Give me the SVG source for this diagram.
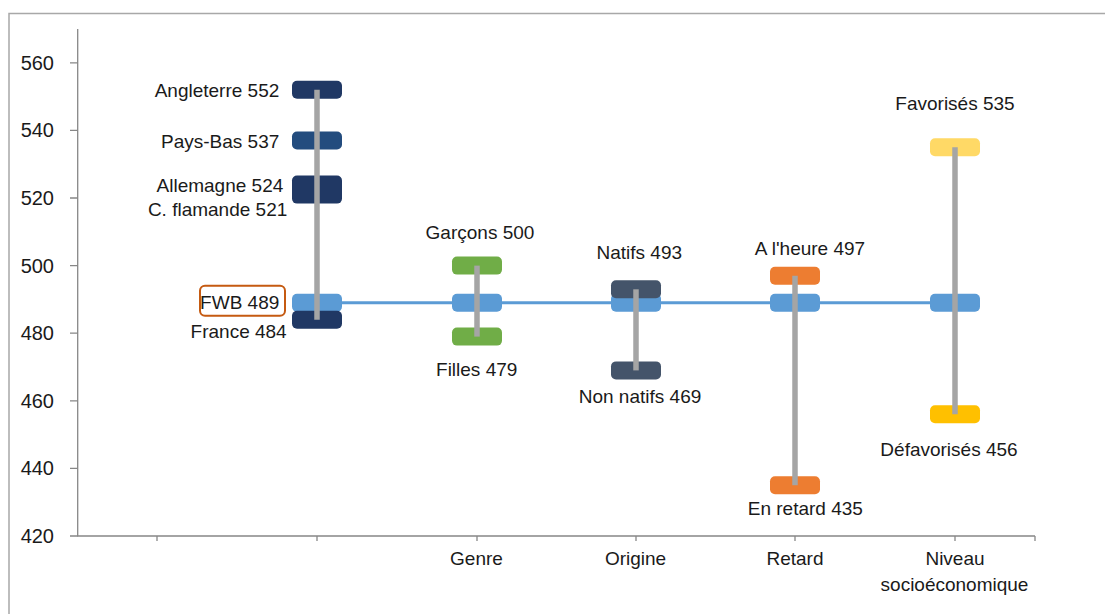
<svg xmlns="http://www.w3.org/2000/svg" width="1105" height="614" viewBox="0 0 1105 614">
<style>
  text { font-family: "Liberation Sans", Arial, sans-serif; font-size: 19px; fill: #1a1a1a; }
  .ax { font-size: 20px; text-anchor: end; }
  .mid { text-anchor: middle; }
  .end { text-anchor: end; }
  .axis { stroke: #878787; stroke-width: 1.3; fill: none; }
  .bar { stroke: #a5a5a5; stroke-width: 5.5; }
  .mean { stroke: #5b9bd5; stroke-width: 3; }
  .box { rx: 5; ry: 5; }
  .fwb { fill: #5b9bd5; }
  .navy { fill: #203864; }
  .navy2 { fill: #234c7e; }
  .green { fill: #70ad47; }
  .slate { fill: #44546a; }
  .orange { fill: #ed7d31; }
  .yellow { fill: #ffd966; }
  .gold { fill: #ffc000; }
</style>
<rect x="0" y="0" width="1105" height="614" fill="#ffffff"/>
<rect x="9" y="13.5" width="1110" height="620" fill="none" stroke="#a8a8a8" stroke-width="1.5"/>

<g id="axes">
  <path class="axis" d="M77.7 29 V536 H1035"/>
  <path class="axis" d="M70 62.8 H77.7 M70 130.4 H77.7 M70 198 H77.7 M70 265.6 H77.7 M70 333.2 H77.7 M70 400.8 H77.7 M70 468.4 H77.7 M70 536 H77.7"/>
  <path class="axis" d="M157 536 V541 M317 536 V541 M477 536 V541 M636 536 V541 M795 536 V541 M955 536 V541 M1035 536 V541"/>
  <text class="ax" x="54" y="69.8">560</text>
  <text class="ax" x="54" y="137.4">540</text>
  <text class="ax" x="54" y="205">520</text>
  <text class="ax" x="54" y="272.6">500</text>
  <text class="ax" x="54" y="340.2">480</text>
  <text class="ax" x="54" y="407.8">460</text>
  <text class="ax" x="54" y="475.4">440</text>
  <text class="ax" x="54" y="543">420</text>
  <text class="mid" x="476.5" y="565">Genre</text>
  <text class="mid" x="635.5" y="565">Origine</text>
  <text class="mid" x="795" y="565">Retard</text>
  <text class="mid" x="955" y="565">Niveau</text>
  <text class="mid" x="954.5" y="590.7">socioéconomique</text>
</g>

<g id="connectors">
  <line class="mean" x1="317" y1="302.8" x2="955" y2="302.8"/>
</g>

<g id="pays">
  <rect class="box navy" x="292" y="80.8" width="50" height="18"/>
  <rect class="box navy2" x="292" y="131.5" width="50" height="18"/>
  <rect class="box navy" x="292" y="175.5" width="50" height="28.1"/>
  <rect class="box fwb" x="292" y="293.8" width="50" height="18"/>
  <rect class="box navy" x="292" y="310.7" width="50" height="18"/>
  <text class="end" x="279.3" y="97.3">Angleterre 552</text>
  <text class="end" x="279.3" y="147.7">Pays-Bas 537</text>
  <text class="end" x="283.3" y="191.7">Allemagne 524</text>
  <text class="end" x="287.3" y="216">C. flamande 521</text>
  <rect x="200" y="285.7" width="85" height="30" rx="5" ry="5" fill="#ffffff" stroke="#c55a11" stroke-width="2"/>
  <text class="end" x="279.3" y="309.3">FWB 489</text>
  <text class="end" x="286.7" y="338.3">France 484</text>
</g>

<g id="genre">
  <rect class="box fwb" x="452" y="293.8" width="50" height="18"/>
  <rect class="box green" x="452" y="256.6" width="50" height="18"/>
  <rect class="box green" x="452" y="327.6" width="50" height="18"/>
  <text class="mid" x="480" y="239">Garçons 500</text>
  <text class="mid" x="476.7" y="376">Filles 479</text>
</g>

<g id="origine">
  <rect class="box fwb" x="611" y="293.8" width="50" height="18"/>
  <rect class="box slate" x="611" y="280.3" width="50" height="18"/>
  <rect class="box slate" x="611" y="361.4" width="50" height="18"/>
  <text class="mid" x="639.3" y="259.3">Natifs 493</text>
  <text class="mid" x="640" y="403.3">Non natifs 469</text>
</g>

<g id="retard">
  <rect class="box fwb" x="770" y="293.8" width="50" height="18"/>
  <rect class="box orange" x="770" y="266.7" width="50" height="18"/>
  <rect class="box orange" x="770" y="476.3" width="50" height="18"/>
  <text class="mid" x="810" y="255">A l'heure 497</text>
  <text class="mid" x="805.3" y="515">En retard 435</text>
</g>

<g id="niveau">
  <rect class="box fwb" x="930" y="293.8" width="50" height="18"/>
  <rect class="box yellow" x="930" y="138.3" width="50" height="18"/>
  <rect class="box gold" x="930" y="405.3" width="50" height="18"/>
  <text class="mid" x="955" y="110">Favorisés 535</text>
  <text class="mid" x="949" y="456">Défavorisés 456</text>
</g>

<g id="ranges">
  <line class="bar" x1="317" y1="89.8" x2="317" y2="319.7"/>
  <line class="bar" x1="477" y1="265.6" x2="477" y2="336.6"/>
  <line class="bar" x1="636" y1="289.3" x2="636" y2="370.4"/>
  <line class="bar" x1="795" y1="275.7" x2="795" y2="485.3"/>
  <line class="bar" x1="955" y1="147.3" x2="955" y2="414.3"/>
</g>
</svg>
